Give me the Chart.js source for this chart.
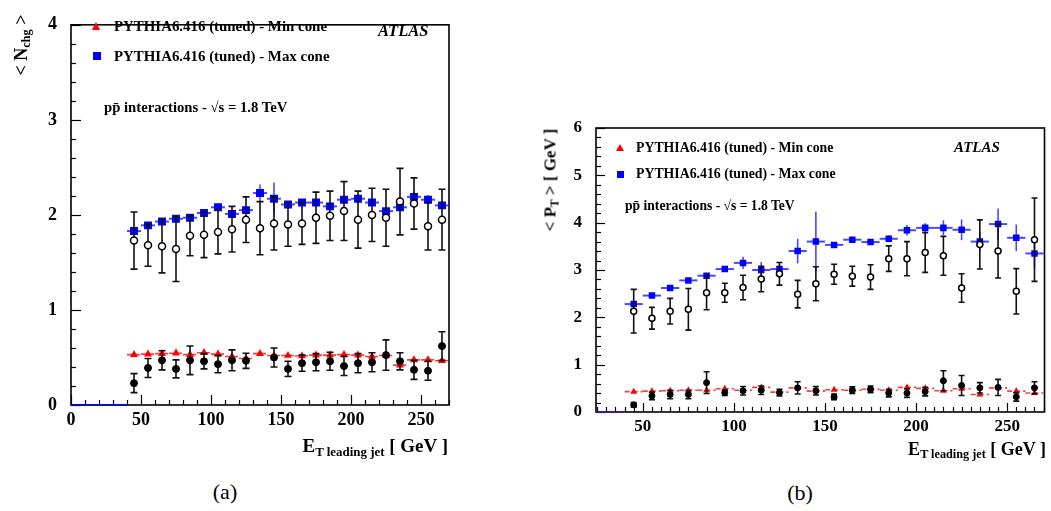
<!DOCTYPE html>
<html><head><meta charset="utf-8">
<script src="https://cdn.jsdelivr.net/npm/chart.js@4.4.0/dist/chart.umd.min.js"></script>
<style>
html,body{margin:0;padding:0;background:#fff;width:1051px;height:511px;overflow:hidden;position:relative;font-family:"Liberation Serif","Times New Roman",serif;}
.box{position:absolute;}
.box canvas{display:block;}
.t{position:absolute;white-space:nowrap;font-weight:bold;color:#000;line-height:1;}
.tri{position:absolute;width:0;height:0;border-style:solid;border-color:transparent transparent #ff0000 transparent;}
.sq{position:absolute;background:#0000ff;}
.rot{position:absolute;white-space:nowrap;font-weight:bold;line-height:1;transform:translate(-50%,-50%) rotate(-90deg);}
sub{font-size:0.68em;vertical-align:baseline;position:relative;top:0.28em;}
</style></head><body>
<div class="box" style="left:0;top:0;width:470px;height:440px"><canvas id="ca" width="470" height="440"></canvas></div>
<div class="box" style="left:510px;top:100px;width:540px;height:340px"><canvas id="cb" width="540" height="340"></canvas></div>

<!-- panel (a) texts -->
<div class="tri" style="left:92px;top:21.5px;border-width:0 4.5px 8px 4.5px"></div>
<div class="t" style="left:114px;top:19px;font-size:14.9px">PYTHIA6.416 (tuned) - Min cone</div>
<div class="sq" style="left:93px;top:52px;width:8px;height:8px"></div>
<div class="t" style="left:114px;top:49px;font-size:14.9px">PYTHIA6.416 (tuned) - Max cone</div>
<div class="t" style="left:378px;top:22.5px;font-size:16.5px;font-style:italic">ATLAS</div>
<div class="t" style="left:104px;top:99.5px;font-size:14.7px">pp̄ interactions - √s = 1.8 TeV</div>
<div class="rot" style="left:21px;top:45px;font-size:18px">&lt; N<sub>chg</sub> &gt;</div>
<div class="t" style="right:603px;top:436px;font-size:19px">E<sub>T leading jet</sub> [ GeV ]</div>
<div class="t" style="left:225px;top:481px;font-size:22px;font-weight:normal;transform:translateX(-50%)">(a)</div>

<!-- panel (b) texts -->
<div class="tri" style="left:616px;top:143.5px;border-width:0 4.3px 7.5px 4.3px"></div>
<div class="t" style="left:636px;top:140.5px;font-size:13.8px">PYTHIA6.416 (tuned) - Min cone</div>
<div class="sq" style="left:617px;top:171px;width:7px;height:7px"></div>
<div class="t" style="left:636px;top:166.5px;font-size:13.8px">PYTHIA6.416 (tuned) - Max cone</div>
<div class="t" style="left:954px;top:139.5px;font-size:15px;font-style:italic">ATLAS</div>
<div class="t" style="left:625px;top:199px;font-size:13.6px">pp̄ interactions - √s = 1.8 TeV</div>
<div class="rot" style="left:550px;top:180px;font-size:17px">&lt; P<sub>T</sub> &gt; [ GeV ]</div>
<div class="t" style="right:5px;top:440px;font-size:18px">E<sub>T leading jet</sub> [ GeV ]</div>
<div class="t" style="left:800px;top:482px;font-size:22px;font-weight:normal;transform:translateX(-50%)">(b)</div>

<script>
// ---------- data ----------
const etBins = [45,55,65,75,85,95,105,115,125,135,145,155,165,175,185,195,205,215,225,235,245,255,265];
const binHalfWidth = 5;

// panel (a): <N_chg>
const nchgMinMC      = [0.53,0.535,0.54,0.545,0.53,0.55,0.535,0.51,0.49,0.54,0.52,0.52,0.515,0.525,0.525,0.53,0.525,0.51,0.52,0.42,0.475,0.475,0.465];
const nchgMaxMC      = [1.83,1.89,1.93,1.96,1.97,2.02,2.08,2.01,2.05,2.23,2.17,2.11,2.13,2.13,2.09,2.16,2.17,2.13,2.04,2.08,2.19,2.16,2.10];
const nchgMaxMCErr   = [0.03,0.02,0.02,0.02,0.02,0.03,0.04,0.03,0.04,0.09,0.17,0.03,0.03,0.03,0.03,0.03,0.03,0.03,0.03,0.03,0.06,0.05,0.04];
const nchgMaxData    = [1.73,1.68,1.67,1.64,1.78,1.79,1.82,1.85,1.95,1.86,1.91,1.90,1.91,1.97,1.99,2.04,1.95,2.00,1.97,2.14,2.12,1.88,1.95];
const nchgMaxDataErr = [0.30,0.22,0.28,0.34,0.21,0.24,0.23,0.24,0.24,0.28,0.28,0.23,0.22,0.27,0.26,0.31,0.30,0.28,0.30,0.35,0.27,0.25,0.32];
const nchgMinData    = [0.23,0.39,0.47,0.38,0.47,0.46,0.43,0.47,0.465,null,0.50,0.38,0.44,0.45,0.46,0.41,0.44,0.45,0.525,0.46,0.37,0.36,0.62];
const nchgMinDataErr = [0.10,0.10,0.10,0.095,0.15,0.08,0.09,0.11,0.08,0,0.10,0.08,0.085,0.09,0.095,0.10,0.10,0.10,0.16,0.09,0.10,0.10,0.15];
const xRangeA        = [0, 270];
const emptyRangeA    = [0, 40];

// panel (b): <P_T> [GeV]
const ptMinMC      = [0.43,0.44,0.45,0.46,0.46,0.49,0.46,0.52,0.42,0.51,0.44,0.47,0.46,0.48,0.46,0.52,0.50,0.45,0.49,0.37,0.51,0.44,0.40];
const ptMaxMC      = [2.28,2.46,2.62,2.78,2.88,3.02,3.15,3.00,3.02,3.40,3.60,3.53,3.64,3.59,3.66,3.84,3.89,3.89,3.85,3.60,3.97,3.68,3.35];
const ptMaxMCErr   = [0.05,0.03,0.03,0.03,0.04,0.06,0.13,0.17,0.09,0.26,0.63,0.04,0.04,0.04,0.07,0.11,0.10,0.16,0.22,0.20,0.33,0.28,0.30];
const ptMaxData    = [2.13,1.98,2.13,2.17,2.52,2.52,2.63,2.81,2.92,2.49,2.71,2.91,2.87,2.85,3.24,3.24,3.37,3.30,2.62,3.54,3.40,2.55,3.64];
const ptMaxDataErr = [0.46,0.23,0.27,0.44,0.36,0.20,0.26,0.27,0.24,0.29,0.36,0.21,0.21,0.26,0.27,0.36,0.42,0.41,0.30,0.52,0.57,0.48,0.88];
const ptMinData    = [0.15,0.34,0.37,0.37,0.62,0.41,0.45,0.46,0.41,0.51,0.45,0.32,0.46,0.48,0.40,0.40,0.43,0.66,0.56,0.51,0.52,0.32,0.51];
const ptMinDataErr = [0.05,0.08,0.09,0.09,0.23,0.06,0.09,0.09,0.07,0.13,0.09,0.06,0.07,0.07,0.08,0.09,0.09,0.21,0.21,0.11,0.17,0.09,0.13];
const xRangeB      = [24.3, 270.5];
const emptyRangeB  = [24.3, 40];

// tick labels
const xTickStep = 50;

// ---------- plugins ----------
const rootFrame = {
  id:'rootFrame',
  beforeDatasetsDraw(chart, args, o){
    const {ctx, chartArea:a, scales:{x,y}} = chart;
    ctx.save();
    ctx.strokeStyle='#000'; ctx.lineWidth=o.lw; ctx.setLineDash([]);
    ctx.strokeRect(a.left, a.top, a.right-a.left, a.bottom-a.top);
    ctx.lineWidth=1.2;
    const n0 = Math.ceil(x.min/o.xMinor - 1e-9), n1 = Math.floor(x.max/o.xMinor + 1e-9);
    for(let n=n0;n<=n1;n++){
      const v=n*o.xMinor; const px=Math.round(x.getPixelForValue(v))+0.5;
      const major = Math.abs(v/o.xMajor-Math.round(v/o.xMajor))<1e-6;
      ctx.beginPath(); ctx.moveTo(px,a.bottom); ctx.lineTo(px,a.bottom-(major?o.majLen:o.minLen)); ctx.stroke();
    }
    const m0 = Math.ceil(y.min/o.yMinor - 1e-9), m1 = Math.floor(y.max/o.yMinor + 1e-9);
    for(let n=m0;n<=m1;n++){
      const v=n*o.yMinor; const py=Math.round(y.getPixelForValue(v))+0.5;
      const major = Math.abs(v/o.yMajor-Math.round(v/o.yMajor))<1e-6;
      ctx.beginPath(); ctx.moveTo(a.left,py); ctx.lineTo(a.left+(major?o.majLen:o.minLen),py); ctx.stroke();
    }
    ctx.restore();
  }
};
const errBars = {
  id:'errBars',
  beforeDatasetDraw(chart, args){
    const ds = chart.data.datasets[args.index];
    if(!ds.eb) return;
    const e = ds.eb, {ctx, scales:{x,y}} = chart;
    ctx.save();
    ds.data.forEach((p,i)=>{
      if(p.y==null) return;
      const px=x.getPixelForValue(p.x), py=y.getPixelForValue(p.y);
      if(e.xHalf){
        ctx.strokeStyle=e.xColor; ctx.lineWidth=e.xWidth; ctx.setLineDash(e.xDash||[]);
        ctx.beginPath(); ctx.moveTo(x.getPixelForValue(p.x-e.xHalf),py); ctx.lineTo(x.getPixelForValue(p.x+e.xHalf),py); ctx.stroke();
      }
      if(e.err && e.err[i]){
        const t=y.getPixelForValue(p.y+e.err[i]), b=y.getPixelForValue(p.y-e.err[i]);
        ctx.strokeStyle=e.yColor; ctx.lineWidth=e.yWidth; ctx.setLineDash([]);
        ctx.beginPath(); ctx.moveTo(px,t); ctx.lineTo(px,b);
        if(e.cap){ ctx.moveTo(px-e.cap,t); ctx.lineTo(px+e.cap,t); ctx.moveTo(px-e.cap,b); ctx.lineTo(px+e.cap,b); }
        ctx.stroke();
      }
    });
    ctx.restore();
  }
};

function pts(vals){ return etBins.map((x,i)=>({x, y: vals[i]})); }
const FONT = "'Liberation Serif','Times New Roman',serif";

function makeChart(id, cfg){
  const datasets = [
    {label:'Data min cone', data:pts(cfg.minData), order:0, pointStyle:'circle', pointRadius:cfg.circR,
     backgroundColor:'#000', borderColor:'#000', borderWidth:1,
     eb:{err:cfg.minDataErr, yColor:'#111', yWidth:1.6, cap:cfg.cap}},
    {label:'Data max cone', data:pts(cfg.maxData), order:1, pointStyle:'circle', pointRadius:cfg.circR,
     backgroundColor:'#fff', borderColor:'#000', borderWidth:1.5,
     eb:{err:cfg.maxDataErr, yColor:'#111', yWidth:1.6, cap:cfg.cap}},
    {label:'PYTHIA6.416 (tuned) - Max cone', data:pts(cfg.maxMC), order:2, pointStyle:'rect', pointRadius:cfg.rectR,
     backgroundColor:'#0000ff', borderColor:'#0000ff', borderWidth:0,
     eb:{xHalf:binHalfWidth, xColor:'rgba(40,40,255,0.85)', xWidth:2, err:cfg.maxMCErr, yColor:'rgba(40,40,255,0.85)', yWidth:1.6}},
    {label:'PYTHIA6.416 (tuned) - Min cone', data:pts(cfg.minMC), order:3, pointStyle:'triangle', pointRadius:cfg.triR,
     backgroundColor:'#ff0000', borderColor:'#ff0000', borderWidth:0,
     eb:{xHalf:binHalfWidth, xColor:'rgba(255,40,40,0.9)', xWidth:1.6, xDash:[5,3]}},
    {label:'empty bins', data:[{x:cfg.empty[0],y:0},{x:cfg.empty[1],y:0}], order:4, showLine:true, pointRadius:0,
     borderColor:cfg.emptyColor, borderWidth:1.6, clip:false}
  ];
  datasets.forEach(d=>{ if(d.showLine===undefined) d.showLine=false; });
  return new Chart(document.getElementById(id), {
    type:'scatter',
    data:{datasets},
    options:{
      responsive:false, animation:false, devicePixelRatio:1, events:[],
      layout:{padding:cfg.pad},
      plugins:{legend:{display:false}, tooltip:{enabled:false},
        rootFrame:{lw:1.6, xMinor:cfg.xMinor, xMajor:xTickStep, yMinor:0.2, yMajor:1, majLen:cfg.majLen, minLen:cfg.minLen}},
      scales:{
        x:{type:'linear', min:cfg.xRange[0], max:cfg.xRange[1],
           grid:{display:false, drawTicks:false}, border:{display:false},
           ticks:{stepSize:xTickStep, includeBounds:false, color:'#000', padding:cfg.xPad, maxRotation:0,
                  font:{family:FONT, weight:'bold', size:cfg.tickSize}},
           afterFit(s){ s.height=cfg.xH; }},
        y:{type:'linear', min:0, max:cfg.yMax,
           grid:{display:false, drawTicks:false}, border:{display:false},
           ticks:{stepSize:1, color:'#000', padding:cfg.yPad,
                  font:{family:FONT, weight:'bold', size:cfg.tickSize}},
           afterFit(s){ s.width=cfg.yW; }}
      }
    },
    plugins:[rootFrame, errBars]
  });
}

makeChart('ca', {
  minMC:nchgMinMC, maxMC:nchgMaxMC, maxMCErr:nchgMaxMCErr, maxData:nchgMaxData, maxDataErr:nchgMaxDataErr,
  minData:nchgMinData, minDataErr:nchgMinDataErr, empty:emptyRangeA, emptyColor:'#0000ff',
  xRange:xRangeA, yMax:4, pad:{left:0, top:9, right:21, bottom:0}, xH:35, yW:71,
  xPad:5, yPad:14, tickSize:18, xMinor:10, majLen:10, minLen:5, circR:3.5, rectR:5.6, triR:4.6, cap:3.5
});
makeChart('cb', {
  minMC:ptMinMC, maxMC:ptMaxMC, maxMCErr:ptMaxMCErr, maxData:ptMaxData, maxDataErr:ptMaxDataErr,
  minData:ptMinData, minDataErr:ptMinDataErr, empty:emptyRangeB, emptyColor:'#50179a',
  xRange:xRangeB, yMax:6, pad:{left:0, top:28, right:3, bottom:0}, xH:28, yW:86,
  xPad:4, yPad:14, tickSize:17, xMinor:5, majLen:9, minLen:5, circR:3, rectR:4.6, triR:4, cap:3
});
</script>
</body></html>
